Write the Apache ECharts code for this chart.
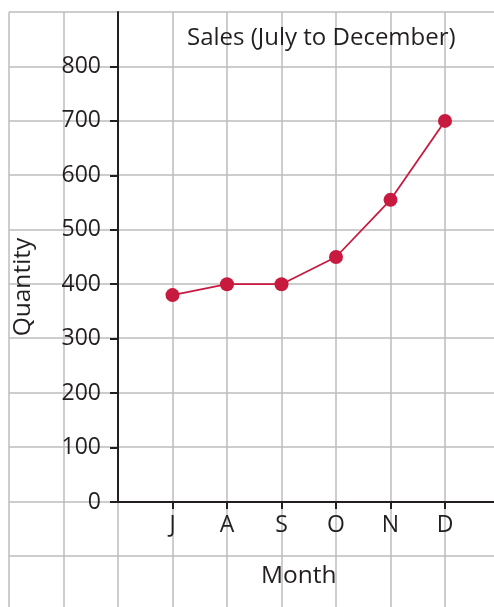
<!DOCTYPE html>
<html>
<head>
<meta charset="utf-8">
<script src="https://cdn.jsdelivr.net/npm/echarts@6/dist/echarts.min.js"></script>
<style>
  html, body { margin: 0; padding: 0; background: #fff; }
  #chart { width: 494px; height: 607px; }
</style>
</head>
<body>
<div id="chart"></div>
<script>
// months on the x axis, placed at 1..6
var months = ['J', 'A', 'S', 'O', 'N', 'D'];
var sales = [380, 400, 400, 450, 555, 700];
var yTicks = [0, 100, 200, 300, 400, 500, 600, 700, 800];

var FONT = 'Open Sans';
var ink = '#231f20';
var gridGray = '#bcbcbe';
var red = '#c8193f';

var chart = echarts.init(document.getElementById('chart'));

var points = months.map(function (m, i) { return [i + 1, sales[i]]; });

var option = {
    animation: false,
    textStyle: { fontFamily: FONT },
    title: {
        text: 'Sales (July to December)',
        left: 182,
        top: 21,
        textStyle: { fontFamily: FONT, fontSize: 24, fontWeight: 'normal', color: ink }
    },
    grid: [
        // squared paper behind everything
        { left: 9, top: 12, width: 490.5, height: 598, outerBoundsMode: 'none' },
        // the actual plot area
        { left: 118, top: 12, width: 381.5, height: 490, outerBoundsMode: 'none' }
    ],
    xAxis: [
        {
            gridIndex: 0, type: 'value', min: -2, max: 7, interval: 1,
            axisLine: { show: false }, axisTick: { show: false }, axisLabel: { show: false },
            splitLine: { show: true, lineStyle: { color: gridGray, width: 1.5 } }
        },
        {
            gridIndex: 1, type: 'value', min: 0, max: 7, interval: 1,
            axisLine: { show: true, onZero: false, lineStyle: { color: ink, width: 2 } },
            axisTick: { show: true, length: 7, customValues: [1, 2, 3, 4, 5, 6], lineStyle: { color: ink, width: 2 } },
            axisLabel: {
                show: true, margin: 12, fontSize: 23, color: ink, fontFamily: FONT,
                customValues: [1, 2, 3, 4, 5, 6],
                formatter: function (v) { return months[v - 1] || ''; }
            },
            splitLine: { show: false },
            name: 'Month',
            nameLocation: 'middle',
            nameGap: 62,
            nameTextStyle: { fontSize: 24.5, color: ink, fontFamily: FONT, padding: [0, 20, 0, 0] }
        }
    ],
    yAxis: [
        {
            gridIndex: 0, type: 'value', min: -200, max: 900, interval: 100,
            axisLine: { show: false }, axisTick: { show: false }, axisLabel: { show: false },
            splitLine: { show: true, lineStyle: { color: gridGray, width: 1.5 } }
        },
        {
            gridIndex: 1, type: 'value', min: 0, max: 900, interval: 100,
            axisLine: { show: true, onZero: false, lineStyle: { color: ink, width: 2 } },
            axisTick: { show: true, length: 8, customValues: yTicks, lineStyle: { color: ink, width: 2 } },
            axisLabel: {
                show: true, margin: 17, fontSize: 23, color: ink, fontFamily: FONT,
                customValues: yTicks
            },
            splitLine: { show: false },
            name: 'Quantity',
            nameLocation: 'middle',
            nameGap: 82,
            nameTextStyle: { fontSize: 24.5, color: ink, fontFamily: FONT, padding: [0, 60, 0, 0] }
        }
    ],
    series: [{
        type: 'line',
        xAxisIndex: 1,
        yAxisIndex: 1,
        data: points,
        symbol: 'circle',
        symbolSize: 14,
        lineStyle: { color: red, width: 1.8 },
        itemStyle: { color: red },
        z: 5
    }]
};

chart.setOption(option);
</script>
</body>
</html>
